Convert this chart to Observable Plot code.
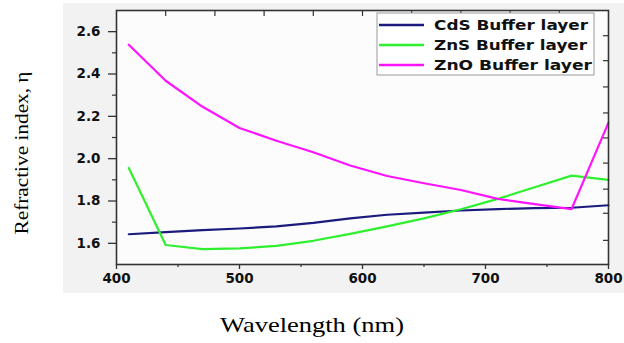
<!DOCTYPE html>
<html>
<head>
<meta charset="utf-8">
<script src="https://cdn.jsdelivr.net/npm/d3@7"></script>
<script src="https://cdn.jsdelivr.net/npm/@observablehq/plot@0.6"></script>
<style>
  html, body { margin: 0; padding: 0; background: #ffffff; }
  #chart { width: 624px; height: 343px; }
</style>
</head>
<body>
<div id="chart"></div>
<script>
// ---- data ----
const wavelengths = [410, 440, 470, 500, 530, 560, 590, 620, 650, 680, 710, 740, 770, 800];
const cdsN = [1.643, 1.653, 1.662, 1.670, 1.680, 1.697, 1.718, 1.735, 1.745, 1.755, 1.762, 1.766, 1.768, 1.780];
const znsN = [1.956, 1.592, 1.573, 1.576, 1.588, 1.612, 1.645, 1.680, 1.718, 1.761, 1.810, 1.865, 1.920, 1.900];
const znoN = [2.538, 2.368, 2.245, 2.145, 2.085, 2.030, 1.968, 1.918, 1.884, 1.852, 1.810, 1.785, 1.762, 2.170];
const seriesNames = ["CdS Buffer layer", "ZnS Buffer layer", "ZnO Buffer layer"];
const xTickValues = [400, 500, 600, 700, 800];
const xMinorValues = [450, 550, 650, 750];
const xTopValues = [440, 480, 520, 560, 600, 640, 680, 720, 760];
const yTickValues = [1.6, 1.8, 2.0, 2.2, 2.4, 2.6];
const yMinorValues = [1.7, 1.9, 2.1, 2.3, 2.5];
const yRightValues = [1.614, 1.742, 1.856, 1.979, 2.098, 2.216, 2.339, 2.463, 2.581];
const xLabel = "Wavelength (nm)";
const yLabel = "Refractive index, η";

const seriesColors = ["#1b1b7e", "#2ef02e", "#ff14ff"];
const seriesValues = [cdsN, znsN, znoN];

const rows = [];
seriesNames.forEach((name, i) => {
  wavelengths.forEach((w, j) => rows.push({series: name, wl: w, n: seriesValues[i][j]}));
});

const axisColor = "#333333";

const chart = Plot.plot({
  width: 624,
  height: 343,
  marginLeft: 116,
  marginRight: 16,
  marginTop: 10,
  marginBottom: 79,
  style: {fontFamily: "DejaVu Sans, Verdana, sans-serif", background: "transparent", color: axisColor},
  x: {domain: [400, 800]},
  y: {domain: [1.5, 2.7]},
  color: {domain: seriesNames, range: seriesColors},
  marks: [
    Plot.frame({fill: "#fcfcfc", stroke: "none"}),
    Plot.line(rows, {x: "wl", y: "n", z: "series", stroke: "series", strokeWidth: 2.2, strokeLinejoin: "round"}),
    Plot.axisX(xTickValues, {tickSize: 5, tickPadding: 4, fontSize: 13.5, fontWeight: "bold", stroke: axisColor, strokeWidth: 1.3, fill: "#111", label: null, tickFormat: d => String(d)}),
    Plot.axisX(xMinorValues, {tickSize: 3, text: null, stroke: axisColor, strokeWidth: 1.2, label: null}),
    Plot.axisX(xTopValues, {anchor: "top", tickSize: -5, text: null, stroke: axisColor, strokeWidth: 1.2, label: null}),
    Plot.axisY(yTickValues, {tickSize: 8, tickPadding: 8, fontSize: 13.5, fontWeight: "bold", stroke: axisColor, strokeWidth: 1.3, fill: "#111", label: null, tickFormat: d => d.toFixed(1)}),
    Plot.axisY(yMinorValues, {tickSize: 4, text: null, stroke: axisColor, strokeWidth: 1.2, label: null}),
    Plot.axisY(yRightValues, {anchor: "right", tickSize: -6, text: null, stroke: axisColor, strokeWidth: 1.2, label: null}),
    Plot.frame({stroke: axisColor, strokeWidth: 1.6})
  ]
});

const svg = d3.select(chart);
// light gray picture background behind the plot
svg.insert("rect", ":first-child")
  .attr("x", 63).attr("y", 3).attr("width", 561).attr("height", 290)
  .attr("fill", "#f2f2f2");

// axis titles
svg.append("text")
  .attr("x", 312).attr("y", 332)
  .attr("text-anchor", "middle")
  .attr("font-family", "Liberation Serif, Times New Roman, serif")
  .attr("font-size", 22)
  .attr("textLength", 184).attr("lengthAdjust", "spacingAndGlyphs")
  .attr("fill", "#000")
  .text(xLabel);
svg.append("text")
  .attr("transform", "translate(28,153) rotate(-90)")
  .attr("text-anchor", "middle")
  .attr("font-family", "Liberation Serif, Times New Roman, serif")
  .attr("font-size", 19)
  .attr("textLength", 163).attr("lengthAdjust", "spacingAndGlyphs")
  .attr("fill", "#000")
  .text(yLabel);

// legend
const lg = svg.append("g").attr("text-anchor", "start");
lg.append("rect")
  .attr("x", 377).attr("y", 13).attr("width", 217).attr("height", 62)
  .attr("fill", "#ffffff").attr("stroke", "#9a9a9a").attr("stroke-width", 1);
const legendWidths = [154, 153, 158];
seriesNames.forEach((name, i) => {
  const yy = 25 + i * 20;
  lg.append("line")
    .attr("x1", 379).attr("x2", 424).attr("y1", yy).attr("y2", yy)
    .attr("stroke", seriesColors[i]).attr("stroke-width", 2.5);
  lg.append("text")
    .attr("x", 434).attr("y", yy).attr("dy", "0.36em")
    .attr("text-anchor", "start")
    .attr("font-family", "DejaVu Sans, Verdana, sans-serif")
    .attr("font-weight", "bold").attr("font-size", 13.5)
    .attr("textLength", legendWidths[i]).attr("lengthAdjust", "spacingAndGlyphs")
    .attr("fill", "#111")
    .text(name);
});

document.getElementById("chart").appendChild(chart);
</script>
</body>
</html>
